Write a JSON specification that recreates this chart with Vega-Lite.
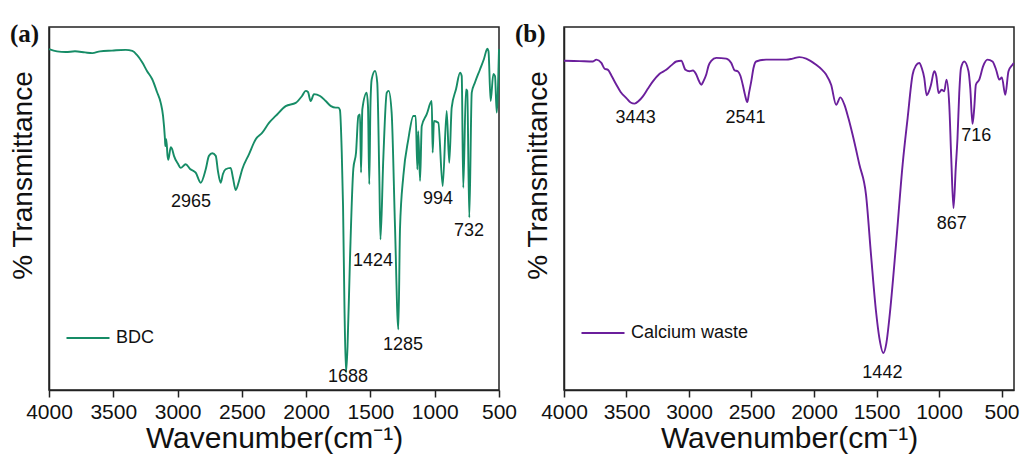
{
  "$schema": "https://vega.github.io/schema/vega-lite/v6.json",
  "padding": {"left": 8, "top": 21, "right": 5, "bottom": 0},
  "background": "white",
  "config": {
    "font": "Liberation Sans",
    "view": {"stroke": "#222222", "strokeWidth": 1.5},
    "axis": {"grid": false, "domainColor": "#222222", "domainWidth": 1.5, "tickColor": "#222222", "tickWidth": 1.5, "labelColor": "#111111", "titleColor": "#111111", "labelFont": "Liberation Sans", "titleFont": "Liberation Sans", "titleFontWeight": "normal"},
    "legend": {"labelFont": "Liberation Sans", "labelColor": "#111111"}
  },
  "datasets": {
    "bdc": [
      {"w": 4000, "y": 93.9}, {"w": 3938, "y": 93.3}, {"w": 3870, "y": 93.1}, {"w": 3798, "y": 93.3}, {"w": 3720, "y": 93.0},
      {"w": 3663, "y": 92.8}, {"w": 3603, "y": 93.3}, {"w": 3510, "y": 93.5}, {"w": 3403, "y": 93.7}, {"w": 3352, "y": 93.4},
      {"w": 3316, "y": 92.3}, {"w": 3274, "y": 90.2}, {"w": 3238, "y": 87.9}, {"w": 3197, "y": 85.6}, {"w": 3160, "y": 82.1},
      {"w": 3131, "y": 79.1}, {"w": 3113, "y": 75.5}, {"w": 3098, "y": 69.1}, {"w": 3095, "y": 67.2}, {"w": 3088, "y": 69.1},
      {"w": 3078, "y": 64.5}, {"w": 3072, "y": 63.4}, {"w": 3053, "y": 66.9}, {"w": 3043, "y": 66.4}, {"w": 3028, "y": 64.5},
      {"w": 2997, "y": 62.3}, {"w": 2976, "y": 61.2}, {"w": 2937, "y": 62.2}, {"w": 2903, "y": 60.9}, {"w": 2859, "y": 59.9},
      {"w": 2820, "y": 57.1}, {"w": 2781, "y": 60.8}, {"w": 2756, "y": 64.5}, {"w": 2730, "y": 65.2}, {"w": 2703, "y": 64.5},
      {"w": 2686, "y": 60.3}, {"w": 2665, "y": 57.1}, {"w": 2647, "y": 59.5}, {"w": 2626, "y": 60.8}, {"w": 2587, "y": 61.2},
      {"w": 2569, "y": 58.4}, {"w": 2548, "y": 55.1}, {"w": 2522, "y": 57.6}, {"w": 2497, "y": 60.8}, {"w": 2444, "y": 65.0},
      {"w": 2392, "y": 69.1}, {"w": 2341, "y": 70.9}, {"w": 2289, "y": 73.6}, {"w": 2237, "y": 75.5}, {"w": 2159, "y": 78.2},
      {"w": 2081, "y": 79.1}, {"w": 2032, "y": 81.0}, {"w": 2003, "y": 82.4}, {"w": 1986, "y": 82.1}, {"w": 1965, "y": 79.6},
      {"w": 1939, "y": 81.5}, {"w": 1892, "y": 81.0}, {"w": 1848, "y": 79.6}, {"w": 1807, "y": 78.2}, {"w": 1770, "y": 77.8},
      {"w": 1750, "y": 77.8}, {"w": 1737, "y": 77.1}, {"w": 1723, "y": 65.4}, {"w": 1713, "y": 50.7}, {"w": 1702, "y": 23.1},
      {"w": 1690, "y": 4.8}, {"w": 1678, "y": 12.1}, {"w": 1659, "y": 36.1}, {"w": 1633, "y": 60.9}, {"w": 1612, "y": 65.4},
      {"w": 1594, "y": 75.5}, {"w": 1581, "y": 75.9}, {"w": 1573, "y": 59.9}, {"w": 1563, "y": 77.3}, {"w": 1529, "y": 81.9},
      {"w": 1519, "y": 78.2}, {"w": 1509, "y": 56.7}, {"w": 1500, "y": 78.2}, {"w": 1490, "y": 85.6}, {"w": 1464, "y": 87.9},
      {"w": 1447, "y": 84.7}, {"w": 1431, "y": 59.0}, {"w": 1422, "y": 41.5}, {"w": 1400, "y": 63.6}, {"w": 1373, "y": 81.9},
      {"w": 1358, "y": 82.4}, {"w": 1335, "y": 76.4}, {"w": 1309, "y": 45.2}, {"w": 1283, "y": 16.7}, {"w": 1270, "y": 44.4},
      {"w": 1244, "y": 59.0}, {"w": 1205, "y": 69.1}, {"w": 1166, "y": 75.5}, {"w": 1148, "y": 75.5}, {"w": 1135, "y": 60.8},
      {"w": 1128, "y": 71.3}, {"w": 1114, "y": 57.6}, {"w": 1101, "y": 72.7}, {"w": 1062, "y": 76.0}, {"w": 1023, "y": 79.6},
      {"w": 1016, "y": 65.4}, {"w": 1006, "y": 74.1}, {"w": 972, "y": 73.6}, {"w": 938, "y": 56.2}, {"w": 907, "y": 76.9},
      {"w": 887, "y": 62.6}, {"w": 868, "y": 77.8}, {"w": 834, "y": 82.9}, {"w": 803, "y": 87.4}, {"w": 790, "y": 86.5},
      {"w": 778, "y": 55.7}, {"w": 757, "y": 82.8}, {"w": 747, "y": 82.4}, {"w": 731, "y": 47.5}, {"w": 712, "y": 81.9},
      {"w": 687, "y": 84.7}, {"w": 648, "y": 88.3}, {"w": 617, "y": 91.2}, {"w": 591, "y": 94.0}, {"w": 582, "y": 93.4},
      {"w": 565, "y": 79.6}, {"w": 544, "y": 87.1}, {"w": 531, "y": 86.5}, {"w": 518, "y": 76.4}, {"w": 500, "y": 93.9}
    ],
    "bdcLabels": [
      {"w": 2896, "y": 51.8, "t": "2965"},
      {"w": 1674, "y": 3.6, "t": "1688"},
      {"w": 1480, "y": 35.5, "t": "1424"},
      {"w": 1247, "y": 12.3, "t": "1285"},
      {"w": 974, "y": 52.5, "t": "994"},
      {"w": 733, "y": 43.8, "t": "732"}
    ],
    "ca": [
      {"w": 4000, "y": 90.7}, {"w": 3875, "y": 90.6}, {"w": 3768, "y": 90.5}, {"w": 3741, "y": 91.0}, {"w": 3701, "y": 90.1},
      {"w": 3675, "y": 88.5}, {"w": 3648, "y": 88.2}, {"w": 3619, "y": 86.5}, {"w": 3581, "y": 84.1}, {"w": 3547, "y": 82.1},
      {"w": 3501, "y": 80.4}, {"w": 3467, "y": 79.2}, {"w": 3435, "y": 78.9}, {"w": 3403, "y": 79.6}, {"w": 3369, "y": 80.9},
      {"w": 3331, "y": 82.9}, {"w": 3289, "y": 85.0}, {"w": 3235, "y": 87.1}, {"w": 3182, "y": 88.2}, {"w": 3139, "y": 89.5},
      {"w": 3102, "y": 90.5}, {"w": 3062, "y": 90.7}, {"w": 3028, "y": 88.2}, {"w": 2996, "y": 87.8}, {"w": 2969, "y": 88.0},
      {"w": 2942, "y": 86.9}, {"w": 2924, "y": 85.4}, {"w": 2902, "y": 84.1}, {"w": 2884, "y": 85.1}, {"w": 2862, "y": 86.9},
      {"w": 2844, "y": 89.3}, {"w": 2822, "y": 90.7}, {"w": 2782, "y": 91.5}, {"w": 2702, "y": 91.3}, {"w": 2662, "y": 90.1},
      {"w": 2636, "y": 88.1}, {"w": 2610, "y": 87.8}, {"w": 2588, "y": 86.5}, {"w": 2570, "y": 84.1}, {"w": 2552, "y": 81.3},
      {"w": 2534, "y": 79.3}, {"w": 2520, "y": 81.8}, {"w": 2502, "y": 85.0}, {"w": 2484, "y": 88.7}, {"w": 2463, "y": 90.5},
      {"w": 2383, "y": 91.0}, {"w": 2223, "y": 91.0}, {"w": 2170, "y": 91.3}, {"w": 2117, "y": 91.7}, {"w": 2063, "y": 91.3},
      {"w": 1983, "y": 89.6}, {"w": 1941, "y": 88.4}, {"w": 1903, "y": 86.9}, {"w": 1863, "y": 84.1}, {"w": 1823, "y": 78.6},
      {"w": 1789, "y": 80.6}, {"w": 1757, "y": 78.6}, {"w": 1725, "y": 74.9}, {"w": 1691, "y": 70.3}, {"w": 1637, "y": 62.1},
      {"w": 1584, "y": 53.8}, {"w": 1544, "y": 37.3}, {"w": 1504, "y": 21.7}, {"w": 1477, "y": 14.3}, {"w": 1445, "y": 10.2},
      {"w": 1421, "y": 12.9}, {"w": 1397, "y": 19.8}, {"w": 1344, "y": 40.0}, {"w": 1291, "y": 62.1}, {"w": 1251, "y": 74.9},
      {"w": 1211, "y": 86.9}, {"w": 1186, "y": 89.3}, {"w": 1158, "y": 90.1}, {"w": 1138, "y": 88.7}, {"w": 1118, "y": 86.0},
      {"w": 1099, "y": 81.2}, {"w": 1082, "y": 82.1}, {"w": 1064, "y": 84.1}, {"w": 1038, "y": 87.8}, {"w": 1022, "y": 86.5},
      {"w": 1003, "y": 81.8}, {"w": 979, "y": 82.7}, {"w": 958, "y": 82.3}, {"w": 940, "y": 85.5}, {"w": 918, "y": 78.6},
      {"w": 902, "y": 63.9}, {"w": 884, "y": 50.1}, {"w": 866, "y": 61.2}, {"w": 852, "y": 69.4}, {"w": 838, "y": 81.8},
      {"w": 824, "y": 88.7}, {"w": 798, "y": 90.5}, {"w": 764, "y": 87.8}, {"w": 750, "y": 83.2}, {"w": 732, "y": 73.3},
      {"w": 718, "y": 77.7}, {"w": 705, "y": 84.1}, {"w": 678, "y": 85.5}, {"w": 646, "y": 89.3}, {"w": 612, "y": 91.0},
      {"w": 572, "y": 90.5}, {"w": 542, "y": 88.1}, {"w": 518, "y": 85.5}, {"w": 497, "y": 86.1}, {"w": 470, "y": 81.3},
      {"w": 444, "y": 87.8}, {"w": 412, "y": 89.6}, {"w": 402, "y": 90.1}
    ],
    "caLabels": [
      {"w": 3427, "y": 74.9, "t": "3443"},
      {"w": 2548, "y": 74.9, "t": "2541"},
      {"w": 1453, "y": 4.8, "t": "1442"},
      {"w": 898, "y": 45.6, "t": "867"},
      {"w": 702, "y": 69.9, "t": "716"}
    ]
  },
  "bounds": "flush",
  "spacing": 65,
  "resolve": {"scale": {"color": "independent", "x": "independent", "y": "independent"}, "legend": {"color": "independent"}},
  "hconcat": [
    {
      "width": 450,
      "height": 363,
      "title": {"text": "(a)", "anchor": "start", "frame": "group", "orient": "top", "offset": 0, "dx": -39, "dy": 20, "font": "Liberation Serif", "fontWeight": "bold", "fontSize": 25, "color": "#111111"},
      "layer": [
        {
          "data": {"name": "bdc"},
          "mark": {"type": "line", "strokeWidth": 1.9, "interpolate": "monotone"},
          "encoding": {
            "x": {"field": "w", "type": "quantitative", "scale": {"domain": [500, 4000], "reverse": true, "nice": false, "zero": false},
                  "axis": {"values": [4000, 3500, 3000, 2500, 2000, 1500, 1000, 500], "format": "d", "labelFontSize": 21, "tickSize": 7, "labelPadding": 4, "title": "Wavenumber(cm⁻¹)", "titleFontSize": 30, "titlePadding": 1, "labelFlush": false}},
            "y": {"field": "y", "type": "quantitative", "scale": {"domain": [0, 100], "nice": false, "zero": false},
                  "axis": {"labels": false, "ticks": false, "title": "% Transmittance", "titleFontSize": 28, "titlePadding": 12, "titleY": 148}},
            "color": {"datum": "BDC", "type": "nominal", "scale": {"range": ["#168c66"]},
                      "legend": {"title": null, "orient": "none", "legendX": 16, "legendY": 288, "symbolType": "stroke", "symbolSize": 1850, "symbolStrokeWidth": 2, "labelFontSize": 18, "labelOffset": 5, "padding": 0}}
          }
        },
        {
          "data": {"name": "bdcLabels"},
          "mark": {"type": "text", "fontSize": 18, "color": "#111111", "font": "Liberation Sans", "baseline": "middle", "align": "center"},
          "encoding": {
            "x": {"field": "w", "type": "quantitative"},
            "y": {"field": "y", "type": "quantitative"},
            "text": {"field": "t"}
          }
        }
      ]
    },
    {
      "width": 450,
      "height": 363,
      "title": {"text": "(b)", "anchor": "start", "frame": "group", "orient": "top", "offset": 0, "dx": -49, "dy": 20, "font": "Liberation Serif", "fontWeight": "bold", "fontSize": 25, "color": "#111111"},
      "layer": [
        {
          "data": {"name": "ca"},
          "mark": {"type": "line", "strokeWidth": 1.9, "interpolate": "monotone"},
          "encoding": {
            "x": {"field": "w", "type": "quantitative", "scale": {"domain": [400, 4000], "reverse": true, "nice": false, "zero": false},
                  "axis": {"values": [4000, 3500, 3000, 2500, 2000, 1500, 1000, 500], "format": "d", "labelFontSize": 21, "tickSize": 7, "labelPadding": 4, "title": "Wavenumber(cm⁻¹)", "titleFontSize": 30, "titlePadding": 1, "labelFlush": false}},
            "y": {"field": "y", "type": "quantitative", "scale": {"domain": [0, 100], "nice": false, "zero": false},
                  "axis": {"labels": false, "ticks": false, "title": "% Transmittance", "titleFontSize": 28, "titlePadding": 12, "titleY": 148}},
            "color": {"datum": "Calcium waste", "type": "nominal", "scale": {"range": ["#6b1f9c"]},
                      "legend": {"title": null, "orient": "none", "legendX": 16, "legendY": 283, "symbolType": "stroke", "symbolSize": 1850, "symbolStrokeWidth": 2, "labelFontSize": 18, "labelOffset": 5, "padding": 0}}
          }
        },
        {
          "data": {"name": "caLabels"},
          "mark": {"type": "text", "fontSize": 18, "color": "#111111", "font": "Liberation Sans", "baseline": "middle", "align": "center"},
          "encoding": {
            "x": {"field": "w", "type": "quantitative"},
            "y": {"field": "y", "type": "quantitative"},
            "text": {"field": "t"}
          }
        }
      ]
    }
  ]
}
